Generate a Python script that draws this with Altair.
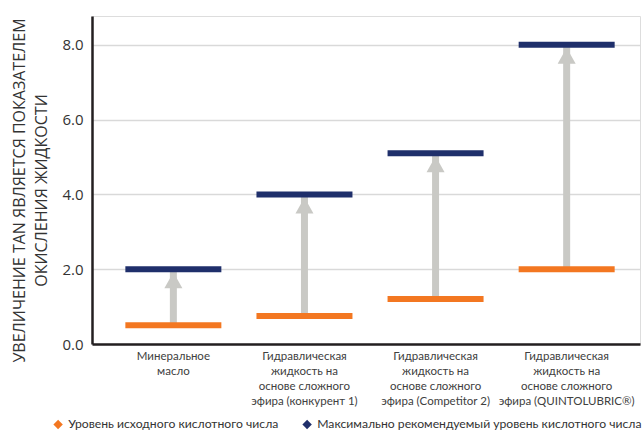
import altair as alt
import pandas as pd

categories = [
    "Минеральное\nмасло",
    "Гидравлическая\nжидкость на\nоснове сложного\nэфира (конкурент 1)",
    "Гидравлическая\nжидкость на\nоснове сложного\nэфира (Competitor 2)",
    "Гидравлическая\nжидкость на\nоснове сложного\nэфира (QUINTOLUBRIC®)",
]
initial_tan = [0.5, 0.75, 1.2, 2.0]
max_tan = [2.0, 4.0, 5.1, 8.0]
series_names = ["Уровень исходного кислотного числа",
                "Максимально рекомендуемый уровень кислотного числа"]
y_ticks = [0, 2, 4, 6, 8]

ORANGE = "#F37721"
NAVY = "#1F2F6B"
GRAY = "#C9C9C5"

wide = pd.DataFrame({"cat": categories, "initial": initial_tan, "max": max_tan})
long = pd.DataFrame({
    "cat": categories * 2,
    "value": initial_tan + max_tan,
    "series": [series_names[0]] * 4 + [series_names[1]] * 4,
})

FONT = "Open Sans"
NARROW = "Lato"

x_enc = alt.X(
    "cat:N",
    sort=categories,
    scale=alt.Scale(paddingInner=0, paddingOuter=0.09, align=0.67),
    axis=alt.Axis(
        title=None,
        labelExpr="split(datum.label, '\\n')",
        labelAngle=0,
        labelFont=NARROW,
        labelFontSize=11.5,
        labelColor="#404040",
        labelLineHeight=15,
        labelPadding=6,
        labelBaseline="top",
        ticks=False,
        domainColor="#231f20",
        domainWidth=2.5,
        grid=False,
        labelLimit=0,
    ),
)

y_scale = alt.Scale(domain=[0, 8.77], nice=False, zero=True)
y_axis = alt.Axis(
    values=y_ticks,
    format=".1f",
    title=["УВЕЛИЧЕНИЕ TAN ЯВЛЯЕТСЯ ПОКАЗАТЕЛЕМ", "ОКИСЛЕНИЯ ЖИДКОСТИ"],
    titleFont=FONT,
    titleFontSize=16,
    titleFontWeight="normal",
    titleColor="#333333",
    titleLineHeight=22,
    titleAngle=-90,
    titleBaseline="top",
    titleAlign="center",
    titleX=-81,
    titleY=174,
    labelFont=FONT,
    labelFontSize=15,
    labelColor="#333333",
    labelPadding=9,
    ticks=False,
    domainColor="#231f20",
    domainWidth=2.5,
    gridColor="#d9d9d9",
    gridWidth=1.5,
)

base = alt.Chart(wide)

grid = base.mark_rule(opacity=0).encode(
    x=x_enc,
    y=alt.Y("initial:Q", scale=y_scale, axis=y_axis),
)

shaft = base.mark_rule(color=GRAY, strokeWidth=7).encode(
    x=alt.X("cat:N", sort=categories),
    y=alt.Y("initial:Q"),
    y2="max:Q",
)

head = base.mark_point(
    shape="M0,0.3L0.9,1.9L-0.9,1.9Z",
    filled=True,
    color=GRAY,
    opacity=1,
    size=400,
    strokeWidth=0,
).encode(
    x=alt.X("cat:N", sort=categories),
    y=alt.Y("max:Q"),
)

ticks = alt.Chart(long).mark_tick(size=96, thickness=6, opacity=1).encode(
    x=alt.X("cat:N", sort=categories),
    y=alt.Y("value:Q"),
    color=alt.Color(
        "series:N",
        sort=series_names,
        scale=alt.Scale(domain=series_names, range=[ORANGE, NAVY]),
        legend=alt.Legend(
            title=None,
            orient="none",
            direction="horizontal",
            legendX=-40,
            legendY=402,
            symbolType="diamond",
            symbolSize=90,
            symbolStrokeWidth=0,
            symbolOpacity=1,
            labelFont=NARROW,
            labelFontSize=12.2,
            labelColor="#333333",
            labelOffset=4,
            columnPadding=22,
            labelLimit=0,
            padding=0,
        ),
    ),
)

chart = alt.layer(grid, shaft, head, ticks).properties(
    width=548,
    height=328,
    autosize=alt.AutoSizeParams(type="none"),
    padding={"left": 92, "top": 16, "right": 4, "bottom": 89},
).configure_view(stroke=None).configure(background="white")

chart.save("out.html", embed_options={"renderer": "svg", "actions": False})
